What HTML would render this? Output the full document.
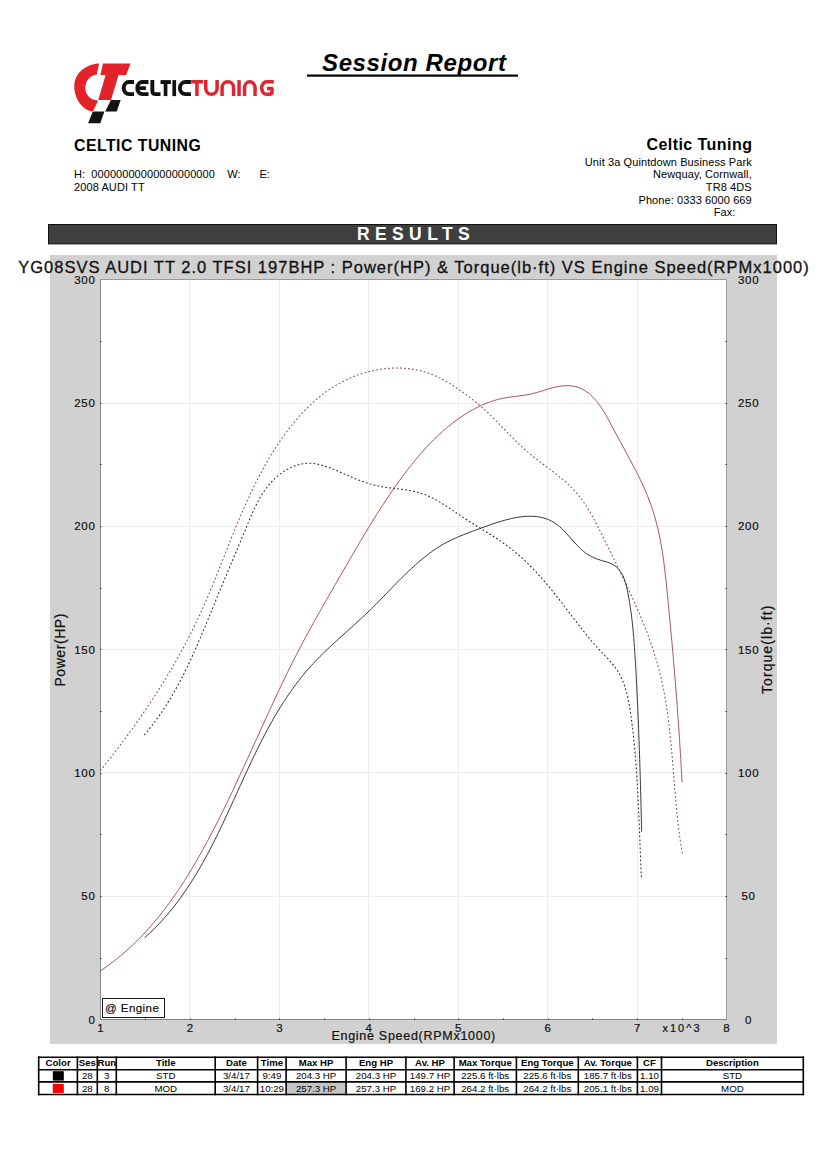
<!DOCTYPE html>
<html><head><meta charset="utf-8"><title>Session Report</title>
<style>
html,body{margin:0;padding:0;background:#fff;}
body{width:827px;height:1170px;overflow:hidden;position:relative;font-family:"Liberation Sans",sans-serif;}
svg{position:absolute;left:0;top:0;}
</style></head><body>
<svg width="827" height="1170" viewBox="0 0 827 1170">
<rect x="50" y="255" width="727" height="789" fill="#d1d1d1"/>
<rect x="100.5" y="279.5" width="626" height="740" fill="#fff"/>
<line x1="189.5" y1="280" x2="189.5" y2="1019" stroke="#ededed" stroke-width="1"/>
<line x1="279.5" y1="280" x2="279.5" y2="1019" stroke="#ededed" stroke-width="1"/>
<line x1="368.5" y1="280" x2="368.5" y2="1019" stroke="#ededed" stroke-width="1"/>
<line x1="458.5" y1="280" x2="458.5" y2="1019" stroke="#ededed" stroke-width="1"/>
<line x1="547.5" y1="280" x2="547.5" y2="1019" stroke="#ededed" stroke-width="1"/>
<line x1="637.5" y1="280" x2="637.5" y2="1019" stroke="#ededed" stroke-width="1"/>
<line x1="101" y1="896.5" x2="726" y2="896.5" stroke="#ededed" stroke-width="1"/>
<line x1="101" y1="772.5" x2="726" y2="772.5" stroke="#ededed" stroke-width="1"/>
<line x1="101" y1="649.5" x2="726" y2="649.5" stroke="#ededed" stroke-width="1"/>
<line x1="101" y1="526.5" x2="726" y2="526.5" stroke="#ededed" stroke-width="1"/>
<line x1="101" y1="403.5" x2="726" y2="403.5" stroke="#ededed" stroke-width="1"/>
<line x1="100" y1="279.5" x2="727" y2="279.5" stroke="#9a9a9a" stroke-width="1"/>
<line x1="726.5" y1="279" x2="726.5" y2="1020" stroke="#a0a0a0" stroke-width="1"/>
<line x1="100.5" y1="279" x2="100.5" y2="1020" stroke="#8a8a8a" stroke-width="1"/>
<line x1="100" y1="1019.5" x2="727" y2="1019.5" stroke="#858585" stroke-width="1"/>
<rect x="100" y="958" width="1.5" height="1" fill="#333"/>
<rect x="725.5" y="958" width="1.5" height="1" fill="#333"/>
<rect x="100" y="896" width="1.5" height="1" fill="#333"/>
<rect x="725.5" y="896" width="1.5" height="1" fill="#333"/>
<rect x="100" y="834" width="1.5" height="1" fill="#333"/>
<rect x="725.5" y="834" width="1.5" height="1" fill="#333"/>
<rect x="100" y="773" width="1.5" height="1" fill="#333"/>
<rect x="725.5" y="773" width="1.5" height="1" fill="#333"/>
<rect x="100" y="711" width="1.5" height="1" fill="#333"/>
<rect x="725.5" y="711" width="1.5" height="1" fill="#333"/>
<rect x="100" y="649" width="1.5" height="1" fill="#333"/>
<rect x="725.5" y="649" width="1.5" height="1" fill="#333"/>
<rect x="100" y="588" width="1.5" height="1" fill="#333"/>
<rect x="725.5" y="588" width="1.5" height="1" fill="#333"/>
<rect x="100" y="526" width="1.5" height="1" fill="#333"/>
<rect x="725.5" y="526" width="1.5" height="1" fill="#333"/>
<rect x="100" y="464" width="1.5" height="1" fill="#333"/>
<rect x="725.5" y="464" width="1.5" height="1" fill="#333"/>
<rect x="100" y="403" width="1.5" height="1" fill="#333"/>
<rect x="725.5" y="403" width="1.5" height="1" fill="#333"/>
<rect x="100" y="341" width="1.5" height="1" fill="#333"/>
<rect x="725.5" y="341" width="1.5" height="1" fill="#333"/>
<rect x="145" y="1018.5" width="1" height="1.5" fill="#333"/>
<rect x="190" y="1018.5" width="1" height="1.5" fill="#333"/>
<rect x="235" y="1018.5" width="1" height="1.5" fill="#333"/>
<rect x="279" y="1018.5" width="1" height="1.5" fill="#333"/>
<rect x="324" y="1018.5" width="1" height="1.5" fill="#333"/>
<rect x="369" y="1018.5" width="1" height="1.5" fill="#333"/>
<rect x="414" y="1018.5" width="1" height="1.5" fill="#333"/>
<rect x="458" y="1018.5" width="1" height="1.5" fill="#333"/>
<rect x="503" y="1018.5" width="1" height="1.5" fill="#333"/>
<rect x="548" y="1018.5" width="1" height="1.5" fill="#333"/>
<rect x="592" y="1018.5" width="1" height="1.5" fill="#333"/>
<rect x="637" y="1018.5" width="1" height="1.5" fill="#333"/>
<rect x="682" y="1018.5" width="1" height="1.5" fill="#333"/>
<path d="M100.27,770.74 L101.82,768.80 L103.37,766.86 L104.91,764.92 L106.45,762.97 L107.99,761.02 L109.52,759.06 L111.05,757.10 L112.57,755.14 L114.09,753.17 L115.60,751.20 L117.11,749.22 L118.62,747.24 L120.12,745.25 L121.62,743.26 L123.11,741.26 L124.59,739.26 L126.08,737.26 L127.55,735.25 L129.02,733.24 L130.49,731.22 L131.95,729.20 L133.40,727.17 L134.85,725.14 L136.30,723.11 L137.74,721.07 L139.17,719.02 L140.59,716.97 L142.01,714.92 L143.43,712.86 L144.84,710.80 L146.24,708.74 L147.63,706.67 L149.02,704.59 L150.41,702.51 L151.78,700.43 L153.15,698.34 L154.51,696.25 L155.87,694.15 L157.22,692.05 L158.56,689.94 L159.89,687.83 L161.22,685.72 L162.54,683.60 L163.85,681.47 L165.16,679.35 L166.46,677.21 L167.75,675.08 L169.03,672.93 L170.30,670.79 L171.57,668.64 L172.83,666.48 L174.08,664.32 L175.32,662.16 L176.55,659.99 L177.78,657.81 L179.00,655.64 L180.20,653.45 L181.40,651.27 L182.60,649.08 L183.78,646.88 L184.95,644.68 L186.12,642.47 L187.27,640.26 L188.42,638.05 L189.56,635.83 L190.68,633.61 L191.80,631.38 L192.91,629.15 L194.01,626.91 L195.10,624.67 L196.18,622.42 L197.25,620.17 L198.31,617.92 L199.36,615.66 L200.40,613.39 L201.43,611.12 L202.45,608.85 L203.47,606.58 L204.47,604.29 L205.47,602.01 L206.46,599.72 L207.44,597.43 L208.41,595.14 L209.38,592.84 L210.35,590.54 L211.30,588.24 L212.26,585.94 L213.20,583.63 L214.15,581.32 L215.09,579.01 L216.02,576.70 L216.95,574.39 L217.88,572.07 L218.81,569.76 L219.73,567.44 L220.65,565.12 L221.57,562.81 L222.49,560.49 L223.41,558.17 L224.33,555.85 L225.25,553.53 L226.17,551.21 L227.09,548.90 L228.01,546.58 L228.93,544.26 L229.85,541.95 L230.78,539.63 L231.71,537.32 L232.64,535.01 L233.58,532.70 L234.52,530.39 L235.46,528.09 L236.41,525.78 L237.37,523.48 L238.33,521.18 L239.29,518.89 L240.26,516.60 L241.24,514.31 L242.22,512.02 L243.22,509.74 L244.22,507.46 L245.22,505.19 L246.24,502.92 L247.26,500.65 L248.30,498.39 L249.34,496.13 L250.39,493.88 L251.46,491.63 L252.53,489.38 L253.62,487.15 L254.71,484.91 L255.82,482.69 L256.94,480.47 L258.08,478.25 L259.22,476.04 L260.38,473.84 L261.56,471.64 L262.75,469.45 L263.95,467.27 L265.16,465.10 L266.40,462.93 L267.65,460.77 L268.91,458.61 L270.19,456.47 L271.49,454.33 L272.80,452.20 L274.13,450.08 L275.48,447.97 L276.85,445.86 L278.24,443.77 L279.64,441.68 L281.07,439.61 L282.51,437.55 L283.97,435.50 L285.45,433.46 L286.95,431.44 L288.47,429.44 L290.02,427.45 L291.58,425.48 L293.16,423.52 L294.76,421.59 L296.38,419.67 L298.03,417.78 L299.69,415.91 L301.37,414.06 L303.08,412.23 L304.81,410.43 L306.56,408.65 L308.33,406.90 L310.12,405.18 L311.94,403.48 L313.78,401.81 L315.64,400.17 L317.52,398.56 L319.43,396.99 L321.36,395.44 L323.31,393.93 L325.29,392.45 L327.29,391.01 L329.31,389.60 L331.36,388.23 L333.43,386.90 L335.53,385.60 L337.65,384.35 L339.79,383.13 L341.96,381.96 L344.16,380.83 L346.38,379.73 L348.62,378.69 L350.90,377.69 L353.19,376.73 L355.51,375.82 L357.85,374.95 L360.21,374.14 L362.60,373.37 L364.99,372.65 L367.41,371.98 L369.84,371.35 L372.28,370.78 L374.74,370.26 L377.20,369.80 L379.68,369.38 L382.16,369.02 L384.65,368.72 L387.14,368.46 L389.63,368.27 L392.13,368.13 L394.63,368.05 L397.12,368.02 L399.62,368.05 L402.11,368.14 L404.59,368.30 L407.07,368.51 L409.54,368.78 L412.00,369.12 L414.44,369.51 L416.88,369.97 L419.30,370.50 L421.70,371.09 L424.09,371.74 L426.46,372.46 L428.81,373.24 L431.14,374.10 L433.44,375.02 L435.73,376.00 L437.99,377.05 L440.23,378.15 L442.44,379.30 L444.64,380.51 L446.82,381.76 L448.98,383.04 L451.12,384.37 L453.25,385.73 L455.35,387.12 L457.44,388.53 L459.52,389.96 L461.58,391.42 L463.62,392.88 L465.65,394.36 L467.66,395.85 L469.66,397.36 L471.64,398.88 L473.60,400.42 L475.54,401.98 L477.47,403.56 L479.37,405.16 L481.25,406.78 L483.11,408.43 L484.95,410.09 L486.77,411.78 L488.57,413.48 L490.36,415.20 L492.13,416.94 L493.89,418.69 L495.64,420.45 L497.38,422.21 L499.12,423.99 L500.85,425.77 L502.58,427.55 L504.31,429.34 L506.03,431.13 L507.77,432.91 L509.50,434.69 L511.24,436.46 L512.99,438.23 L514.75,439.99 L516.52,441.73 L518.31,443.46 L520.11,445.18 L521.92,446.88 L523.76,448.57 L525.62,450.23 L527.50,451.87 L529.40,453.48 L531.33,455.08 L533.27,456.65 L535.24,458.20 L537.22,459.74 L539.21,461.26 L541.21,462.78 L543.21,464.29 L545.22,465.79 L547.22,467.29 L549.23,468.80 L551.22,470.30 L553.21,471.82 L555.18,473.34 L557.14,474.87 L559.08,476.42 L561.00,477.99 L562.89,479.57 L564.76,481.18 L566.60,482.82 L568.40,484.48 L570.16,486.17 L571.89,487.89 L573.58,489.65 L575.22,491.45 L576.82,493.28 L578.38,495.14 L579.90,497.04 L581.38,498.98 L582.82,500.95 L584.22,502.95 L585.59,504.98 L586.92,507.04 L588.22,509.12 L589.50,511.23 L590.74,513.35 L591.97,515.50 L593.17,517.67 L594.35,519.86 L595.52,522.05 L596.67,524.27 L597.80,526.49 L598.93,528.72 L600.05,530.96 L601.16,533.21 L602.27,535.46 L603.38,537.71 L604.49,539.96 L605.60,542.22 L606.71,544.47 L607.82,546.72 L608.93,548.97 L610.05,551.22 L611.16,553.47 L612.27,555.73 L613.39,557.98 L614.50,560.23 L615.61,562.48 L616.71,564.74 L617.82,566.99 L618.92,569.25 L620.02,571.50 L621.12,573.76 L622.21,576.02 L623.30,578.27 L624.38,580.54 L625.46,582.80 L626.54,585.06 L627.61,587.33 L628.67,589.59 L629.72,591.86 L630.77,594.13 L631.82,596.40 L632.85,598.68 L633.88,600.96 L634.90,603.24 L635.91,605.52 L636.91,607.80 L637.91,610.09 L638.89,612.38 L639.87,614.67 L640.83,616.97 L641.78,619.27 L642.72,621.57 L643.65,623.88 L644.57,626.19 L645.48,628.50 L646.37,630.82 L647.26,633.14 L648.12,635.46 L648.98,637.79 L649.82,640.12 L650.65,642.46 L651.46,644.80 L652.26,647.14 L653.04,649.49 L653.80,651.85 L654.55,654.21 L655.29,656.57 L656.00,658.94 L656.70,661.31 L657.38,663.69 L658.05,666.08 L658.69,668.47 L659.32,670.86 L659.93,673.26 L660.51,675.67 L661.08,678.08 L661.64,680.50 L662.17,682.92 L662.69,685.35 L663.19,687.78 L663.67,690.22 L664.14,692.66 L664.59,695.11 L665.03,697.56 L665.45,700.01 L665.86,702.47 L666.25,704.93 L666.63,707.40 L667.00,709.86 L667.36,712.34 L667.70,714.81 L668.04,717.29 L668.36,719.77 L668.67,722.26 L668.98,724.74 L669.27,727.23 L669.55,729.72 L669.83,732.22 L670.09,734.71 L670.35,737.21 L670.61,739.71 L670.85,742.21 L671.09,744.71 L671.33,747.21 L671.55,749.72 L671.78,752.22 L672.00,754.73 L672.21,757.24 L672.42,759.74 L672.63,762.25 L672.84,764.76 L673.04,767.26 L673.24,769.77 L673.44,772.28 L673.64,774.78 L673.84,777.29 L674.04,779.79 L674.24,782.30 L674.45,784.80 L674.65,787.30 L674.85,789.80 L675.06,792.30 L675.27,794.80 L675.49,797.29 L675.71,799.79 L675.93,802.28 L676.15,804.76 L676.39,807.25 L676.62,809.73 L676.87,812.21 L677.12,814.69 L677.38,817.17 L677.64,819.64 L677.92,822.11 L678.20,824.57 L678.49,827.03 L678.79,829.49 L679.10,831.94 L679.42,834.39 L679.75,836.84 L680.09,839.28 L680.44,841.71 L680.81,844.14 L681.19,846.57 L681.58,848.99 L681.99,851.41 L682.40,853.82" fill="none" stroke="#8c5050" stroke-width="1.05" stroke-dasharray="1.8 2.2" stroke-linejoin="round"/>
<path d="M144.27,734.97 L145.91,733.05 L147.52,731.12 L149.11,729.17 L150.67,727.21 L152.21,725.23 L153.73,723.24 L155.23,721.24 L156.71,719.22 L158.17,717.19 L159.60,715.15 L161.02,713.09 L162.42,711.03 L163.80,708.94 L165.16,706.85 L166.50,704.75 L167.82,702.63 L169.13,700.51 L170.42,698.37 L171.69,696.23 L172.95,694.07 L174.19,691.91 L175.42,689.73 L176.63,687.55 L177.83,685.36 L179.01,683.15 L180.18,680.95 L181.33,678.73 L182.48,676.51 L183.61,674.28 L184.73,672.04 L185.83,669.79 L186.93,667.54 L188.01,665.29 L189.08,663.03 L190.15,660.76 L191.20,658.49 L192.25,656.21 L193.28,653.93 L194.31,651.64 L195.33,649.36 L196.34,647.06 L197.35,644.77 L198.34,642.47 L199.33,640.17 L200.32,637.87 L201.30,635.56 L202.27,633.25 L203.24,630.95 L204.21,628.64 L205.17,626.33 L206.13,624.02 L207.08,621.71 L208.03,619.40 L208.98,617.09 L209.93,614.78 L210.87,612.48 L211.82,610.17 L212.76,607.87 L213.71,605.57 L214.65,603.27 L215.59,600.97 L216.54,598.68 L217.48,596.39 L218.43,594.10 L219.38,591.81 L220.33,589.53 L221.28,587.25 L222.23,584.97 L223.18,582.69 L224.13,580.41 L225.09,578.13 L226.04,575.85 L227.00,573.57 L227.95,571.29 L228.91,569.01 L229.87,566.72 L230.83,564.44 L231.79,562.15 L232.75,559.86 L233.71,557.57 L234.68,555.28 L235.64,552.98 L236.61,550.68 L237.57,548.37 L238.54,546.06 L239.51,543.75 L240.48,541.43 L241.45,539.10 L242.42,536.77 L243.39,534.44 L244.36,532.09 L245.33,529.74 L246.31,527.39 L247.28,525.02 L248.26,522.66 L249.25,520.29 L250.26,517.93 L251.27,515.58 L252.31,513.23 L253.36,510.90 L254.44,508.58 L255.55,506.28 L256.68,504.01 L257.85,501.76 L259.06,499.53 L260.31,497.34 L261.59,495.18 L262.93,493.06 L264.31,490.98 L265.75,488.94 L267.24,486.95 L268.78,485.01 L270.39,483.12 L272.07,481.28 L273.81,479.51 L275.61,477.80 L277.48,476.15 L279.42,474.58 L281.40,473.09 L283.44,471.68 L285.53,470.36 L287.67,469.14 L289.84,468.02 L292.06,467.00 L294.30,466.10 L296.58,465.31 L298.89,464.64 L301.22,464.10 L303.57,463.69 L305.94,463.41 L308.32,463.29 L310.72,463.31 L313.11,463.47 L315.52,463.78 L317.92,464.20 L320.33,464.75 L322.74,465.39 L325.15,466.13 L327.56,466.94 L329.97,467.83 L332.38,468.77 L334.77,469.76 L337.17,470.78 L339.55,471.82 L341.92,472.88 L344.29,473.94 L346.64,474.98 L348.98,476.01 L351.31,477.01 L353.64,477.99 L355.96,478.95 L358.28,479.87 L360.60,480.76 L362.93,481.61 L365.26,482.42 L367.60,483.19 L369.96,483.92 L372.33,484.59 L374.71,485.22 L377.12,485.79 L379.54,486.31 L382.00,486.77 L384.47,487.18 L386.96,487.54 L389.46,487.88 L391.97,488.19 L394.49,488.48 L397.01,488.77 L399.53,489.07 L402.05,489.38 L404.55,489.71 L407.04,490.07 L409.51,490.47 L411.96,490.91 L414.39,491.42 L416.79,492.00 L419.15,492.65 L421.48,493.38 L423.78,494.19 L426.05,495.07 L428.29,496.02 L430.50,497.04 L432.69,498.11 L434.85,499.24 L437.00,500.41 L439.13,501.64 L441.25,502.90 L443.35,504.20 L445.44,505.53 L447.53,506.88 L449.61,508.26 L451.68,509.65 L453.76,511.06 L455.83,512.47 L457.91,513.89 L460.00,515.30 L462.09,516.71 L464.19,518.11 L466.31,519.49 L468.43,520.86 L470.57,522.22 L472.71,523.56 L474.86,524.90 L477.01,526.24 L479.16,527.57 L481.31,528.90 L483.47,530.23 L485.62,531.56 L487.76,532.89 L489.90,534.23 L492.03,535.58 L494.15,536.94 L496.26,538.31 L498.35,539.69 L500.43,541.09 L502.50,542.51 L504.54,543.95 L506.57,545.40 L508.57,546.89 L510.55,548.39 L512.51,549.93 L514.44,551.48 L516.35,553.07 L518.24,554.68 L520.11,556.31 L521.95,557.96 L523.77,559.64 L525.58,561.34 L527.36,563.06 L529.13,564.79 L530.87,566.55 L532.60,568.33 L534.32,570.12 L536.02,571.93 L537.70,573.76 L539.37,575.60 L541.02,577.45 L542.66,579.32 L544.29,581.21 L545.91,583.10 L547.52,585.01 L549.11,586.92 L550.70,588.85 L552.27,590.79 L553.84,592.73 L555.40,594.69 L556.95,596.65 L558.49,598.61 L560.03,600.58 L561.57,602.56 L563.10,604.54 L564.62,606.52 L566.14,608.51 L567.66,610.50 L569.18,612.49 L570.70,614.48 L572.21,616.46 L573.73,618.45 L575.24,620.44 L576.76,622.42 L578.28,624.40 L579.80,626.37 L581.33,628.34 L582.86,630.30 L584.40,632.26 L585.95,634.21 L587.51,636.14 L589.09,638.07 L590.68,639.99 L592.29,641.89 L593.93,643.78 L595.58,645.65 L597.26,647.51 L598.96,649.36 L600.69,651.19 L602.43,653.01 L604.17,654.82 L605.90,656.65 L607.61,658.48 L609.29,660.32 L610.93,662.18 L612.53,664.07 L614.06,666.00 L615.53,667.95 L616.92,669.95 L618.22,672.00 L619.43,674.09 L620.56,676.23 L621.62,678.41 L622.60,680.62 L623.51,682.87 L624.36,685.16 L625.15,687.48 L625.87,689.82 L626.54,692.20 L627.16,694.59 L627.74,697.01 L628.27,699.45 L628.76,701.90 L629.22,704.37 L629.65,706.86 L630.05,709.35 L630.43,711.85 L630.79,714.35 L631.13,716.86 L631.46,719.36 L631.78,721.87 L632.09,724.38 L632.40,726.88 L632.69,729.38 L632.98,731.88 L633.25,734.39 L633.52,736.89 L633.78,739.39 L634.03,741.89 L634.28,744.38 L634.52,746.88 L634.75,749.38 L634.97,751.88 L635.18,754.37 L635.39,756.87 L635.60,759.36 L635.79,761.86 L635.98,764.35 L636.17,766.85 L636.35,769.34 L636.52,771.83 L636.69,774.32 L636.85,776.82 L637.01,779.31 L637.16,781.80 L637.31,784.29 L637.45,786.78 L637.59,789.27 L637.72,791.77 L637.86,794.26 L637.98,796.75 L638.11,799.24 L638.23,801.73 L638.35,804.22 L638.46,806.71 L638.58,809.20 L638.69,811.69 L638.80,814.18 L638.90,816.68 L639.01,819.17 L639.11,821.66 L639.21,824.15 L639.31,826.65 L639.41,829.14 L639.51,831.63 L639.61,834.13 L639.71,836.62 L639.80,839.11 L639.90,841.61 L640.00,844.11 L640.10,846.60 L640.20,849.10 L640.29,851.60 L640.39,854.09 L640.50,856.59 L640.60,859.09 L640.70,861.59 L640.81,864.09 L640.92,866.60 L641.03,869.10 L641.14,871.60 L641.25,874.11 L641.37,876.61 L641.49,879.12" fill="none" stroke="#282828" stroke-width="1.05" stroke-dasharray="1.8 2.2" stroke-linejoin="round"/>
<path d="M99.77,971.32 L101.90,969.89 L104.01,968.43 L106.10,966.95 L108.16,965.45 L110.21,963.94 L112.24,962.41 L114.25,960.85 L116.24,959.29 L118.20,957.70 L120.15,956.10 L122.08,954.48 L123.99,952.84 L125.89,951.18 L127.76,949.51 L129.61,947.83 L131.45,946.13 L133.27,944.41 L135.07,942.67 L136.85,940.93 L138.62,939.16 L140.37,937.38 L142.10,935.59 L143.82,933.78 L145.52,931.96 L147.20,930.13 L148.87,928.28 L150.52,926.42 L152.15,924.55 L153.77,922.66 L155.38,920.76 L156.97,918.85 L158.54,916.92 L160.10,914.99 L161.65,913.04 L163.18,911.08 L164.70,909.11 L166.21,907.13 L167.70,905.14 L169.17,903.14 L170.64,901.12 L172.09,899.10 L173.53,897.07 L174.96,895.03 L176.37,892.98 L177.78,890.92 L179.17,888.85 L180.55,886.77 L181.91,884.68 L183.27,882.59 L184.62,880.49 L185.95,878.38 L187.28,876.26 L188.59,874.14 L189.90,872.01 L191.19,869.87 L192.48,867.73 L193.75,865.58 L195.02,863.42 L196.28,861.26 L197.52,859.09 L198.76,856.92 L200.00,854.74 L201.22,852.56 L202.44,850.38 L203.64,848.18 L204.84,845.99 L206.04,843.79 L207.22,841.59 L208.40,839.38 L209.57,837.17 L210.74,834.96 L211.90,832.75 L213.05,830.53 L214.20,828.31 L215.34,826.09 L216.48,823.86 L217.61,821.63 L218.73,819.40 L219.85,817.17 L220.97,814.93 L222.08,812.70 L223.18,810.46 L224.28,808.22 L225.38,805.97 L226.47,803.73 L227.56,801.48 L228.64,799.23 L229.72,796.98 L230.80,794.73 L231.87,792.47 L232.94,790.22 L234.00,787.96 L235.06,785.70 L236.12,783.44 L237.18,781.18 L238.23,778.91 L239.28,776.65 L240.33,774.39 L241.38,772.12 L242.42,769.85 L243.47,767.58 L244.51,765.31 L245.55,763.04 L246.59,760.77 L247.62,758.50 L248.66,756.23 L249.69,753.96 L250.73,751.69 L251.76,749.41 L252.79,747.14 L253.82,744.87 L254.86,742.59 L255.89,740.32 L256.92,738.05 L257.95,735.77 L258.98,733.50 L260.02,731.22 L261.05,728.95 L262.08,726.68 L263.12,724.40 L264.16,722.13 L265.19,719.86 L266.23,717.59 L267.27,715.32 L268.32,713.05 L269.36,710.78 L270.41,708.51 L271.45,706.24 L272.51,703.98 L273.56,701.71 L274.61,699.45 L275.67,697.18 L276.73,694.92 L277.80,692.66 L278.87,690.40 L279.94,688.14 L281.01,685.88 L282.09,683.63 L283.18,681.38 L284.26,679.12 L285.35,676.87 L286.45,674.63 L287.55,672.38 L288.65,670.13 L289.76,667.89 L290.87,665.65 L291.99,663.41 L293.12,661.18 L294.25,658.94 L295.38,656.71 L296.52,654.48 L297.67,652.26 L298.82,650.03 L299.98,647.81 L301.14,645.59 L302.31,643.38 L303.49,641.16 L304.67,638.95 L305.86,636.74 L307.05,634.53 L308.25,632.33 L309.45,630.13 L310.65,627.93 L311.86,625.73 L313.08,623.54 L314.29,621.34 L315.52,619.15 L316.74,616.96 L317.97,614.77 L319.20,612.59 L320.43,610.41 L321.67,608.22 L322.91,606.04 L324.15,603.87 L325.39,601.69 L326.63,599.52 L327.88,597.34 L329.12,595.17 L330.37,593.00 L331.62,590.83 L332.87,588.66 L334.12,586.50 L335.37,584.33 L336.62,582.17 L337.87,580.01 L339.12,577.85 L340.37,575.69 L341.62,573.53 L342.87,571.37 L344.11,569.22 L345.36,567.06 L346.60,564.91 L347.85,562.76 L349.10,560.60 L350.34,558.46 L351.59,556.31 L352.84,554.16 L354.09,552.01 L355.34,549.87 L356.60,547.73 L357.86,545.59 L359.12,543.45 L360.38,541.32 L361.64,539.18 L362.91,537.05 L364.19,534.92 L365.46,532.79 L366.75,530.67 L368.03,528.54 L369.32,526.42 L370.62,524.30 L371.92,522.19 L373.23,520.07 L374.54,517.96 L375.86,515.85 L377.19,513.75 L378.52,511.65 L379.87,509.55 L381.21,507.45 L382.57,505.36 L383.94,503.26 L385.31,501.18 L386.69,499.09 L388.08,497.01 L389.48,494.93 L390.89,492.86 L392.31,490.79 L393.74,488.72 L395.18,486.66 L396.63,484.60 L398.09,482.54 L399.56,480.49 L401.05,478.45 L402.54,476.41 L404.05,474.39 L405.57,472.37 L407.10,470.36 L408.65,468.36 L410.20,466.37 L411.78,464.39 L413.36,462.42 L414.96,460.47 L416.57,458.53 L418.20,456.60 L419.84,454.69 L421.49,452.79 L423.16,450.91 L424.85,449.04 L426.55,447.19 L428.27,445.36 L430.00,443.55 L431.75,441.76 L433.52,439.99 L435.30,438.24 L437.10,436.50 L438.91,434.79 L440.75,433.11 L442.60,431.44 L444.47,429.81 L446.36,428.19 L448.27,426.60 L450.19,425.04 L452.14,423.50 L454.10,421.99 L456.09,420.51 L458.09,419.05 L460.11,417.63 L462.16,416.24 L464.22,414.88 L466.31,413.55 L468.41,412.26 L470.54,411.00 L472.68,409.79 L474.85,408.61 L477.04,407.48 L479.25,406.40 L481.48,405.36 L483.73,404.37 L486.00,403.42 L488.29,402.53 L490.60,401.70 L492.94,400.92 L495.30,400.19 L497.67,399.53 L500.07,398.92 L502.50,398.38 L504.94,397.90 L507.40,397.48 L509.88,397.11 L512.38,396.77 L514.88,396.45 L517.39,396.13 L519.91,395.81 L522.43,395.47 L524.95,395.10 L527.46,394.67 L529.97,394.19 L532.46,393.64 L534.94,393.01 L537.41,392.32 L539.87,391.59 L542.32,390.83 L544.77,390.07 L547.21,389.32 L549.65,388.60 L552.09,387.91 L554.52,387.29 L556.96,386.75 L559.40,386.31 L561.84,385.97 L564.28,385.76 L566.70,385.67 L569.11,385.73 L571.50,385.93 L573.85,386.29 L576.15,386.82 L578.42,387.52 L580.62,388.40 L582.77,389.46 L584.86,390.67 L586.89,392.03 L588.85,393.51 L590.75,395.12 L592.58,396.84 L594.34,398.64 L596.02,400.53 L597.63,402.49 L599.17,404.51 L600.65,406.58 L602.07,408.70 L603.44,410.87 L604.77,413.06 L606.06,415.28 L607.31,417.52 L608.54,419.78 L609.74,422.03 L610.93,424.28 L612.11,426.53 L613.29,428.75 L614.46,430.96 L615.64,433.15 L616.81,435.33 L617.99,437.50 L619.17,439.66 L620.35,441.83 L621.54,443.99 L622.72,446.17 L623.92,448.34 L625.11,450.53 L626.30,452.71 L627.49,454.91 L628.68,457.10 L629.86,459.31 L631.04,461.52 L632.21,463.73 L633.38,465.95 L634.53,468.18 L635.68,470.41 L636.82,472.65 L637.94,474.90 L639.05,477.15 L640.14,479.41 L641.22,481.68 L642.28,483.95 L643.33,486.23 L644.35,488.52 L645.35,490.82 L646.34,493.12 L647.29,495.43 L648.23,497.75 L649.14,500.08 L650.02,502.41 L650.87,504.75 L651.69,507.11 L652.49,509.47 L653.25,511.83 L653.99,514.21 L654.70,516.59 L655.38,518.98 L656.03,521.38 L656.66,523.79 L657.26,526.20 L657.84,528.62 L658.40,531.04 L658.94,533.47 L659.45,535.91 L659.94,538.35 L660.42,540.80 L660.87,543.25 L661.31,545.71 L661.73,548.17 L662.13,550.63 L662.52,553.10 L662.89,555.58 L663.25,558.05 L663.60,560.53 L663.93,563.01 L664.25,565.50 L664.56,567.99 L664.86,570.48 L665.15,572.97 L665.44,575.46 L665.71,577.95 L665.98,580.45 L666.25,582.94 L666.50,585.44 L666.76,587.94 L667.01,590.44 L667.26,592.93 L667.50,595.43 L667.75,597.92 L667.99,600.42 L668.24,602.91 L668.48,605.41 L668.72,607.90 L668.96,610.40 L669.20,612.89 L669.43,615.38 L669.67,617.87 L669.91,620.36 L670.14,622.85 L670.37,625.34 L670.60,627.83 L670.83,630.32 L671.06,632.81 L671.29,635.30 L671.52,637.79 L671.74,640.28 L671.97,642.77 L672.19,645.25 L672.41,647.74 L672.63,650.23 L672.85,652.72 L673.07,655.20 L673.28,657.69 L673.50,660.18 L673.71,662.66 L673.92,665.15 L674.13,667.64 L674.34,670.12 L674.55,672.61 L674.75,675.10 L674.96,677.58 L675.16,680.07 L675.36,682.56 L675.56,685.05 L675.76,687.53 L675.96,690.02 L676.15,692.51 L676.35,694.99 L676.54,697.48 L676.73,699.97 L676.92,702.46 L677.11,704.95 L677.29,707.44 L677.48,709.93 L677.66,712.41 L677.84,714.90 L678.02,717.39 L678.20,719.89 L678.37,722.38 L678.55,724.87 L678.72,727.36 L678.89,729.85 L679.06,732.34 L679.22,734.84 L679.39,737.33 L679.55,739.83 L679.71,742.32 L679.87,744.82 L680.03,747.31 L680.19,749.81 L680.34,752.31 L680.50,754.81 L680.65,757.31 L680.80,759.81 L680.94,762.31 L681.09,764.81 L681.23,767.31 L681.37,769.81 L681.51,772.32 L681.65,774.82 L681.78,777.33 L681.92,779.83 L682.05,782.34" fill="none" stroke="#a44a4a" stroke-width="0.95" stroke-linejoin="round"/>
<path d="M144.55,937.83 L146.45,936.13 L148.33,934.42 L150.18,932.69 L152.00,930.94 L153.80,929.18 L155.58,927.39 L157.34,925.60 L159.07,923.79 L160.79,921.96 L162.48,920.12 L164.14,918.26 L165.79,916.39 L167.42,914.50 L169.02,912.60 L170.61,910.68 L172.18,908.76 L173.73,906.81 L175.25,904.86 L176.76,902.89 L178.26,900.91 L179.73,898.92 L181.19,896.91 L182.63,894.90 L184.05,892.87 L185.46,890.83 L186.85,888.78 L188.22,886.72 L189.58,884.64 L190.93,882.56 L192.26,880.47 L193.57,878.36 L194.87,876.25 L196.16,874.13 L197.44,872.00 L198.70,869.86 L199.95,867.71 L201.19,865.56 L202.42,863.39 L203.63,861.22 L204.83,859.04 L206.03,856.85 L207.21,854.66 L208.38,852.46 L209.55,850.25 L210.70,848.03 L211.85,845.81 L212.98,843.59 L214.11,841.36 L215.23,839.12 L216.35,836.88 L217.45,834.63 L218.55,832.38 L219.65,830.12 L220.74,827.86 L221.82,825.60 L222.89,823.33 L223.97,821.06 L225.03,818.79 L226.10,816.52 L227.16,814.24 L228.21,811.96 L229.27,809.67 L230.32,807.39 L231.36,805.10 L232.41,802.82 L233.45,800.53 L234.50,798.24 L235.54,795.95 L236.58,793.66 L237.62,791.37 L238.66,789.08 L239.70,786.79 L240.74,784.50 L241.79,782.22 L242.83,779.93 L243.88,777.64 L244.93,775.36 L245.98,773.08 L247.04,770.80 L248.09,768.53 L249.16,766.25 L250.22,763.98 L251.29,761.72 L252.37,759.45 L253.45,757.20 L254.54,754.94 L255.63,752.69 L256.73,750.44 L257.83,748.20 L258.94,745.96 L260.06,743.73 L261.19,741.51 L262.32,739.29 L263.47,737.07 L264.62,734.87 L265.78,732.67 L266.95,730.47 L268.13,728.28 L269.32,726.10 L270.52,723.93 L271.73,721.77 L272.95,719.61 L274.19,717.46 L275.44,715.33 L276.69,713.19 L277.97,711.07 L279.25,708.96 L280.55,706.86 L281.86,704.77 L283.19,702.68 L284.53,700.61 L285.88,698.55 L287.25,696.50 L288.64,694.46 L290.04,692.43 L291.46,690.42 L292.89,688.41 L294.35,686.42 L295.82,684.44 L297.30,682.47 L298.81,680.52 L300.33,678.58 L301.87,676.65 L303.43,674.74 L305.02,672.84 L306.62,670.95 L308.24,669.08 L309.88,667.22 L311.54,665.38 L313.22,663.55 L314.93,661.74 L316.65,659.94 L318.39,658.15 L320.14,656.38 L321.92,654.62 L323.70,652.86 L325.50,651.12 L327.31,649.39 L329.13,647.66 L330.96,645.94 L332.80,644.23 L334.65,642.53 L336.51,640.83 L338.37,639.14 L340.23,637.45 L342.10,635.76 L343.97,634.08 L345.84,632.39 L347.71,630.71 L349.58,629.03 L351.45,627.35 L353.32,625.67 L355.18,623.99 L357.03,622.30 L358.88,620.62 L360.72,618.92 L362.55,617.23 L364.37,615.53 L366.18,613.82 L367.98,612.10 L369.76,610.38 L371.54,608.65 L373.29,606.92 L375.04,605.17 L376.78,603.42 L378.51,601.67 L380.23,599.91 L381.95,598.15 L383.66,596.38 L385.37,594.61 L387.08,592.84 L388.79,591.06 L390.51,589.29 L392.22,587.52 L393.95,585.74 L395.67,583.97 L397.41,582.20 L399.16,580.43 L400.91,578.67 L402.68,576.91 L404.47,575.15 L406.26,573.40 L408.08,571.66 L409.91,569.92 L411.77,568.19 L413.64,566.47 L415.53,564.76 L417.43,563.08 L419.36,561.41 L421.30,559.76 L423.26,558.14 L425.23,556.55 L427.22,554.99 L429.22,553.47 L431.24,551.98 L433.28,550.53 L435.32,549.12 L437.38,547.77 L439.46,546.45 L441.54,545.19 L443.64,543.99 L445.76,542.83 L447.88,541.71 L450.02,540.63 L452.18,539.60 L454.35,538.59 L456.54,537.62 L458.75,536.67 L460.97,535.74 L463.21,534.83 L465.47,533.94 L467.75,533.06 L470.05,532.18 L472.37,531.32 L474.72,530.45 L477.08,529.58 L479.47,528.70 L481.87,527.82 L484.30,526.93 L486.75,526.05 L489.21,525.18 L491.68,524.32 L494.17,523.48 L496.66,522.66 L499.16,521.87 L501.67,521.11 L504.18,520.38 L506.69,519.70 L509.19,519.07 L511.70,518.49 L514.19,517.96 L516.68,517.49 L519.16,517.09 L521.63,516.76 L524.08,516.51 L526.51,516.34 L528.93,516.25 L531.32,516.25 L533.69,516.35 L536.04,516.55 L538.36,516.85 L540.65,517.26 L542.90,517.78 L545.12,518.42 L547.31,519.19 L549.46,520.09 L551.57,521.12 L553.63,522.28 L555.65,523.59 L557.63,525.05 L559.56,526.64 L561.45,528.35 L563.31,530.16 L565.14,532.04 L566.96,533.99 L568.76,535.98 L570.55,537.99 L572.34,540.01 L574.12,542.01 L575.92,543.99 L577.73,545.91 L579.56,547.76 L581.42,549.52 L583.30,551.18 L585.23,552.71 L587.19,554.10 L589.20,555.36 L591.26,556.48 L593.39,557.50 L595.57,558.43 L597.82,559.27 L600.14,560.06 L602.54,560.79 L605.01,561.49 L607.48,562.23 L609.88,563.06 L612.12,564.06 L614.15,565.25 L616.00,566.63 L617.67,568.17 L619.18,569.87 L620.53,571.72 L621.75,573.69 L622.83,575.78 L623.80,577.97 L624.66,580.25 L625.42,582.61 L626.11,585.03 L626.73,587.49 L627.29,589.99 L627.81,592.51 L628.29,595.04 L628.75,597.56 L629.19,600.08 L629.61,602.60 L630.00,605.11 L630.38,607.62 L630.74,610.12 L631.09,612.62 L631.41,615.12 L631.72,617.62 L632.02,620.11 L632.30,622.60 L632.57,625.08 L632.82,627.57 L633.06,630.05 L633.29,632.53 L633.51,635.01 L633.72,637.49 L633.92,639.97 L634.11,642.44 L634.29,644.92 L634.46,647.40 L634.63,649.87 L634.80,652.35 L634.95,654.82 L635.11,657.30 L635.26,659.77 L635.41,662.25 L635.55,664.73 L635.70,667.21 L635.84,669.69 L635.98,672.17 L636.11,674.66 L636.25,677.14 L636.38,679.62 L636.51,682.11 L636.64,684.60 L636.77,687.08 L636.89,689.57 L637.01,692.06 L637.13,694.55 L637.25,697.04 L637.37,699.53 L637.48,702.02 L637.60,704.51 L637.71,707.00 L637.82,709.49 L637.92,711.98 L638.03,714.48 L638.13,716.97 L638.24,719.47 L638.34,721.96 L638.44,724.46 L638.53,726.95 L638.63,729.45 L638.73,731.94 L638.82,734.44 L638.91,736.93 L639.00,739.43 L639.09,741.93 L639.18,744.42 L639.27,746.92 L639.35,749.42 L639.44,751.91 L639.52,754.41 L639.60,756.91 L639.68,759.40 L639.76,761.90 L639.84,764.40 L639.92,766.90 L639.99,769.39 L640.07,771.89 L640.14,774.38 L640.22,776.88 L640.29,779.38 L640.36,781.87 L640.43,784.37 L640.50,786.86 L640.57,789.35 L640.64,791.85 L640.71,794.34 L640.78,796.83 L640.84,799.33 L640.91,801.82 L640.98,804.31 L641.04,806.80 L641.11,809.29 L641.17,811.78 L641.23,814.27 L641.30,816.76 L641.36,819.25 L641.42,821.73 L641.48,824.22 L641.55,826.71 L641.61,829.19 L641.67,831.67" fill="none" stroke="#2a2a2a" stroke-width="0.95" stroke-linejoin="round"/>
<rect x="102.5" y="998.5" width="62" height="19" fill="#fff" stroke="#1a1a1a" stroke-width="1"/>
<text x="105" y="1011.6" font-family="Liberation Sans" font-size="11.5" letter-spacing="0.45" fill="#111" stroke="#111" stroke-width="0.22">@ Engine</text>
<text x="95.5" y="1023.5" font-family="Liberation Sans" font-size="11.5" letter-spacing="0.7" text-anchor="end" fill="#111" stroke="#111" stroke-width="0.22">0</text>
<text x="748.6" y="1023.5" font-family="Liberation Sans" font-size="11.5" letter-spacing="0.7" text-anchor="middle" fill="#111" stroke="#111" stroke-width="0.22">0</text>
<text x="95.5" y="900.2" font-family="Liberation Sans" font-size="11.5" letter-spacing="0.7" text-anchor="end" fill="#111" stroke="#111" stroke-width="0.22">50</text>
<text x="748.6" y="900.2" font-family="Liberation Sans" font-size="11.5" letter-spacing="0.7" text-anchor="middle" fill="#111" stroke="#111" stroke-width="0.22">50</text>
<text x="95.5" y="776.8" font-family="Liberation Sans" font-size="11.5" letter-spacing="0.7" text-anchor="end" fill="#111" stroke="#111" stroke-width="0.22">100</text>
<text x="748.6" y="776.8" font-family="Liberation Sans" font-size="11.5" letter-spacing="0.7" text-anchor="middle" fill="#111" stroke="#111" stroke-width="0.22">100</text>
<text x="95.5" y="653.5" font-family="Liberation Sans" font-size="11.5" letter-spacing="0.7" text-anchor="end" fill="#111" stroke="#111" stroke-width="0.22">150</text>
<text x="748.6" y="653.5" font-family="Liberation Sans" font-size="11.5" letter-spacing="0.7" text-anchor="middle" fill="#111" stroke="#111" stroke-width="0.22">150</text>
<text x="95.5" y="530.2" font-family="Liberation Sans" font-size="11.5" letter-spacing="0.7" text-anchor="end" fill="#111" stroke="#111" stroke-width="0.22">200</text>
<text x="748.6" y="530.2" font-family="Liberation Sans" font-size="11.5" letter-spacing="0.7" text-anchor="middle" fill="#111" stroke="#111" stroke-width="0.22">200</text>
<text x="95.5" y="406.8" font-family="Liberation Sans" font-size="11.5" letter-spacing="0.7" text-anchor="end" fill="#111" stroke="#111" stroke-width="0.22">250</text>
<text x="748.6" y="406.8" font-family="Liberation Sans" font-size="11.5" letter-spacing="0.7" text-anchor="middle" fill="#111" stroke="#111" stroke-width="0.22">250</text>
<text x="95.5" y="283.5" font-family="Liberation Sans" font-size="11.5" letter-spacing="0.7" text-anchor="end" fill="#111" stroke="#111" stroke-width="0.22">300</text>
<text x="748.6" y="283.5" font-family="Liberation Sans" font-size="11.5" letter-spacing="0.7" text-anchor="middle" fill="#111" stroke="#111" stroke-width="0.22">300</text>
<text x="100.5" y="1031.6" font-family="Liberation Sans" font-size="11.5" text-anchor="middle" fill="#111" stroke="#111" stroke-width="0.22">1</text>
<text x="189.9" y="1031.6" font-family="Liberation Sans" font-size="11.5" text-anchor="middle" fill="#111" stroke="#111" stroke-width="0.22">2</text>
<text x="279.4" y="1031.6" font-family="Liberation Sans" font-size="11.5" text-anchor="middle" fill="#111" stroke="#111" stroke-width="0.22">3</text>
<text x="368.8" y="1031.6" font-family="Liberation Sans" font-size="11.5" text-anchor="middle" fill="#111" stroke="#111" stroke-width="0.22">4</text>
<text x="458.2" y="1031.6" font-family="Liberation Sans" font-size="11.5" text-anchor="middle" fill="#111" stroke="#111" stroke-width="0.22">5</text>
<text x="547.6" y="1031.6" font-family="Liberation Sans" font-size="11.5" text-anchor="middle" fill="#111" stroke="#111" stroke-width="0.22">6</text>
<text x="637.1" y="1031.6" font-family="Liberation Sans" font-size="11.5" text-anchor="middle" fill="#111" stroke="#111" stroke-width="0.22">7</text>
<text x="726.5" y="1031.6" font-family="Liberation Sans" font-size="11.5" text-anchor="middle" fill="#111" stroke="#111" stroke-width="0.22">8</text>
<text x="682" y="1031.6" font-family="Liberation Sans" font-size="11" letter-spacing="2.0" text-anchor="middle" fill="#111" stroke="#111" stroke-width="0.22">x10^3</text>
<text x="413.7" y="1039.5" font-family="Liberation Sans" font-size="12.5" letter-spacing="0.72" text-anchor="middle" fill="#111" stroke="#111" stroke-width="0.22">Engine Speed(RPMx1000)</text>
<text transform="translate(65.2,649.8) rotate(-90)" x="0" y="0" font-family="Liberation Sans" font-size="14" letter-spacing="0.57" text-anchor="middle" fill="#111" stroke="#111" stroke-width="0.22">Power(HP)</text>
<text transform="translate(771.6,649.3) rotate(-90)" x="0" y="0" font-family="Liberation Sans" font-size="14" letter-spacing="1.08" text-anchor="middle" fill="#111" stroke="#111" stroke-width="0.22">Torque(lb·ft)</text>
<text x="414" y="272.6" font-family="Liberation Sans" font-size="16.5" letter-spacing="1.0" text-anchor="middle" fill="#111" stroke="#111" stroke-width="0.3">YG08SVS AUDI TT 2.0 TFSI 197BHP : Power(HP) &amp; Torque(lb·ft) VS Engine Speed(RPMx1000)</text>
<rect x="48.5" y="224.5" width="728" height="19.4" fill="#3f3f3f" stroke="#111" stroke-width="1"/>
<text x="416" y="239.8" font-family="Liberation Sans" font-size="17.5" font-weight="bold" letter-spacing="5.4" text-anchor="middle" fill="#fff">RESULTS</text>
<text x="414.3" y="71.1" font-family="Liberation Sans" font-size="24" font-weight="bold" font-style="italic" letter-spacing="0.6" text-anchor="middle" fill="#000">Session Report</text>
<rect x="307" y="74.5" width="211" height="2.2" fill="#000"/>
<text x="74" y="150.5" font-family="Liberation Sans" font-size="15.8" font-weight="bold" letter-spacing="0.5" fill="#000">CELTIC TUNING</text>
<text x="74" y="177.9" font-family="Liberation Sans" font-size="11" letter-spacing="0.06" fill="#000" xml:space="preserve">H:  00000000000000000000    W:      E:</text>
<text x="74" y="191.2" font-family="Liberation Sans" font-size="11" letter-spacing="0.1" fill="#000">2008 AUDI TT</text>
<text x="752.4" y="149.6" font-family="Liberation Sans" font-size="16" font-weight="bold" letter-spacing="0.45" text-anchor="end" fill="#000">Celtic Tuning</text>
<text x="751.8" y="165.9" font-family="Liberation Sans" font-size="11" letter-spacing="0.1" text-anchor="end" fill="#000">Unit 3a Quintdown Business Park</text>
<text x="751.8" y="178.4" font-family="Liberation Sans" font-size="11" letter-spacing="0.1" text-anchor="end" fill="#000">Newquay, Cornwall,</text>
<text x="751.8" y="191.0" font-family="Liberation Sans" font-size="11" letter-spacing="0.1" text-anchor="end" fill="#000">TR8 4DS</text>
<text x="751.8" y="203.5" font-family="Liberation Sans" font-size="11" letter-spacing="0.1" text-anchor="end" fill="#000">Phone: 0333 6000 669</text>
<text x="735.5" y="216.1" font-family="Liberation Sans" font-size="11" letter-spacing="0.1" text-anchor="end" fill="#000">Fax:</text>
<g id="logo">
<path d="M99.1,63.5 C88,63.5 74.3,72 74.3,86.5 C74.3,100 84,111.3 93,111.3 L98.2,100.5 C91,100.5 85.3,95 85.3,88 C85.3,81 90,75.2 96.8,74.5 Z" fill="#e42229"/>
<path d="M103,63.5 L130.5,63.5 L126.2,74.9 L118.5,74.9 L111,100.1 L98.3,100.1 L105.6,74.9 L100.4,74.9 Z" fill="#e42229"/>
<path d="M110.9,100.1 L120.7,100.1 L116.7,111.6 L105.2,111.6 Z" fill="#141414"/>
<path d="M92.8,111.6 L104.4,111.6 L100.3,123.3 L88.1,123.3 Z" fill="#141414"/>
<g fill="none" stroke="#111" stroke-width="3.9" stroke-linejoin="round">
<path d="M134,82.05 H129 A5.3,6.05 0 0 0 129,94.15 H134"/>
<path d="M148.5,82.05 H142.5 A5.25,6.05 0 0 0 142.5,94.15 H148.5 M137.5,88.1 H145.9"/>
<path d="M152.35,80.1 V91 Q152.35,94.15 155.5,94.15 H160.5"/>
<path d="M160.5,82.05 H170.9"/>
<path d="M165.55,82.05 V96.1" stroke-width="3.7"/>
<path d="M174.25,80.1 V96.1" stroke-width="3.7"/>
<path d="M190.9,82.05 H185.6 A5.75,6.05 0 0 0 185.6,94.15 H190.9"/>
</g>
<g fill="none" stroke="#df2530" stroke-width="3.5" stroke-linejoin="round">
<path d="M191.1,81.85 H203.1 M196.95,81.85 V96.1"/>
<path d="M205.75,80.1 V88.5 A5.675,5.85 0 0 0 217.1,88.5 V80.1"/>
<path d="M222.1,96.1 V87.7 A5.75,5.85 0 0 1 233.6,87.7 V96.1"/>
<path d="M239.05,80.1 V96.1"/>
<path d="M244.55,96.1 V87.7 A5.25,5.85 0 0 1 255.05,87.7 V96.1"/>
<path d="M273.8,81.85 H266.8 A5.15,6.25 0 0 0 266.8,94.35 H269.5 Q272.05,94.35 272.05,91.8 V88.6 H267"/>
</g>
</g>

<rect x="286" y="1082" width="60" height="12.5" fill="#c4c4c4"/>
<line x1="38.7" y1="1056.4" x2="38.7" y2="1095.3" stroke="#000" stroke-width="1.6"/>
<line x1="77.4" y1="1056.4" x2="77.4" y2="1095.3" stroke="#000" stroke-width="1.6"/>
<line x1="97.3" y1="1056.4" x2="97.3" y2="1095.3" stroke="#000" stroke-width="1.6"/>
<line x1="116.3" y1="1056.4" x2="116.3" y2="1095.3" stroke="#000" stroke-width="1.6"/>
<line x1="215.2" y1="1056.4" x2="215.2" y2="1095.3" stroke="#000" stroke-width="1.6"/>
<line x1="257.6" y1="1056.4" x2="257.6" y2="1095.3" stroke="#000" stroke-width="1.6"/>
<line x1="286.1" y1="1056.4" x2="286.1" y2="1095.3" stroke="#000" stroke-width="1.6"/>
<line x1="346.1" y1="1056.4" x2="346.1" y2="1095.3" stroke="#000" stroke-width="1.6"/>
<line x1="405.9" y1="1056.4" x2="405.9" y2="1095.3" stroke="#000" stroke-width="1.6"/>
<line x1="454.1" y1="1056.4" x2="454.1" y2="1095.3" stroke="#000" stroke-width="1.6"/>
<line x1="516.4" y1="1056.4" x2="516.4" y2="1095.3" stroke="#000" stroke-width="1.6"/>
<line x1="578.3" y1="1056.4" x2="578.3" y2="1095.3" stroke="#000" stroke-width="1.6"/>
<line x1="637.4" y1="1056.4" x2="637.4" y2="1095.3" stroke="#000" stroke-width="1.6"/>
<line x1="661.5" y1="1056.4" x2="661.5" y2="1095.3" stroke="#000" stroke-width="1.6"/>
<line x1="803.3" y1="1056.4" x2="803.3" y2="1095.3" stroke="#000" stroke-width="1.6"/>
<line x1="37.900000000000006" y1="1057.2" x2="804.0999999999999" y2="1057.2" stroke="#000" stroke-width="1.6"/>
<line x1="37.900000000000006" y1="1069.7" x2="804.0999999999999" y2="1069.7" stroke="#000" stroke-width="1.6"/>
<line x1="37.900000000000006" y1="1081.9" x2="804.0999999999999" y2="1081.9" stroke="#000" stroke-width="1.6"/>
<line x1="37.900000000000006" y1="1094.5" x2="804.0999999999999" y2="1094.5" stroke="#000" stroke-width="1.6"/>
<text x="58.1" y="1065.9" font-family="Liberation Sans" font-size="9.6" font-weight="bold" text-anchor="middle" fill="#000">Color</text>
<text x="87.3" y="1065.9" font-family="Liberation Sans" font-size="9.6" font-weight="bold" text-anchor="middle" fill="#000">Ses</text>
<text x="87.3" y="1079.4" font-family="Liberation Sans" font-size="9.7" text-anchor="middle" fill="#000">28</text>
<text x="87.3" y="1091.8" font-family="Liberation Sans" font-size="9.7" text-anchor="middle" fill="#000">28</text>
<text x="106.8" y="1065.9" font-family="Liberation Sans" font-size="9.6" font-weight="bold" text-anchor="middle" fill="#000">Run</text>
<text x="106.8" y="1079.4" font-family="Liberation Sans" font-size="9.7" text-anchor="middle" fill="#000">3</text>
<text x="106.8" y="1091.8" font-family="Liberation Sans" font-size="9.7" text-anchor="middle" fill="#000">8</text>
<text x="165.8" y="1065.9" font-family="Liberation Sans" font-size="9.6" font-weight="bold" text-anchor="middle" fill="#000">Title</text>
<text x="165.8" y="1079.4" font-family="Liberation Sans" font-size="9.7" text-anchor="middle" fill="#000">STD</text>
<text x="165.8" y="1091.8" font-family="Liberation Sans" font-size="9.7" text-anchor="middle" fill="#000">MOD</text>
<text x="236.4" y="1065.9" font-family="Liberation Sans" font-size="9.6" font-weight="bold" text-anchor="middle" fill="#000">Date</text>
<text x="236.4" y="1079.4" font-family="Liberation Sans" font-size="9.7" text-anchor="middle" fill="#000">3/4/17</text>
<text x="236.4" y="1091.8" font-family="Liberation Sans" font-size="9.7" text-anchor="middle" fill="#000">3/4/17</text>
<text x="271.9" y="1065.9" font-family="Liberation Sans" font-size="9.6" font-weight="bold" text-anchor="middle" fill="#000">Time</text>
<text x="271.9" y="1079.4" font-family="Liberation Sans" font-size="9.7" text-anchor="middle" fill="#000">9:49</text>
<text x="271.9" y="1091.8" font-family="Liberation Sans" font-size="9.7" text-anchor="middle" fill="#000">10:29</text>
<text x="316.1" y="1065.9" font-family="Liberation Sans" font-size="9.6" font-weight="bold" text-anchor="middle" fill="#000">Max HP</text>
<text x="316.1" y="1079.4" font-family="Liberation Sans" font-size="9.7" text-anchor="middle" fill="#000">204.3 HP</text>
<text x="316.1" y="1091.8" font-family="Liberation Sans" font-size="9.7" text-anchor="middle" fill="#000">257.3 HP</text>
<text x="376.0" y="1065.9" font-family="Liberation Sans" font-size="9.6" font-weight="bold" text-anchor="middle" fill="#000">Eng HP</text>
<text x="376.0" y="1079.4" font-family="Liberation Sans" font-size="9.7" text-anchor="middle" fill="#000">204.3 HP</text>
<text x="376.0" y="1091.8" font-family="Liberation Sans" font-size="9.7" text-anchor="middle" fill="#000">257.3 HP</text>
<text x="430.0" y="1065.9" font-family="Liberation Sans" font-size="9.6" font-weight="bold" text-anchor="middle" fill="#000">Av. HP</text>
<text x="430.0" y="1079.4" font-family="Liberation Sans" font-size="9.7" text-anchor="middle" fill="#000">149.7 HP</text>
<text x="430.0" y="1091.8" font-family="Liberation Sans" font-size="9.7" text-anchor="middle" fill="#000">169.2 HP</text>
<text x="485.2" y="1065.9" font-family="Liberation Sans" font-size="9.6" font-weight="bold" text-anchor="middle" fill="#000">Max Torque</text>
<text x="485.2" y="1079.4" font-family="Liberation Sans" font-size="9.7" text-anchor="middle" fill="#000">225.6 ft·lbs</text>
<text x="485.2" y="1091.8" font-family="Liberation Sans" font-size="9.7" text-anchor="middle" fill="#000">264.2 ft·lbs</text>
<text x="547.3" y="1065.9" font-family="Liberation Sans" font-size="9.6" font-weight="bold" text-anchor="middle" fill="#000">Eng Torque</text>
<text x="547.3" y="1079.4" font-family="Liberation Sans" font-size="9.7" text-anchor="middle" fill="#000">225.6 ft·lbs</text>
<text x="547.3" y="1091.8" font-family="Liberation Sans" font-size="9.7" text-anchor="middle" fill="#000">264.2 ft·lbs</text>
<text x="607.8" y="1065.9" font-family="Liberation Sans" font-size="9.6" font-weight="bold" text-anchor="middle" fill="#000">Av. Torque</text>
<text x="607.8" y="1079.4" font-family="Liberation Sans" font-size="9.7" text-anchor="middle" fill="#000">185.7 ft·lbs</text>
<text x="607.8" y="1091.8" font-family="Liberation Sans" font-size="9.7" text-anchor="middle" fill="#000">205.1 ft·lbs</text>
<text x="649.5" y="1065.9" font-family="Liberation Sans" font-size="9.6" font-weight="bold" text-anchor="middle" fill="#000">CF</text>
<text x="649.5" y="1079.4" font-family="Liberation Sans" font-size="9.7" text-anchor="middle" fill="#000">1.10</text>
<text x="649.5" y="1091.8" font-family="Liberation Sans" font-size="9.7" text-anchor="middle" fill="#000">1.09</text>
<text x="732.4" y="1065.9" font-family="Liberation Sans" font-size="9.6" font-weight="bold" text-anchor="middle" fill="#000">Description</text>
<text x="732.4" y="1079.4" font-family="Liberation Sans" font-size="9.7" text-anchor="middle" fill="#000">STD</text>
<text x="732.4" y="1091.8" font-family="Liberation Sans" font-size="9.7" text-anchor="middle" fill="#000">MOD</text>
<rect x="52.8" y="1071.2" width="11" height="9.4" fill="#000"/>
<rect x="52.8" y="1083.8" width="11" height="9.2" fill="#ff0000"/>
</svg>
</body></html>
